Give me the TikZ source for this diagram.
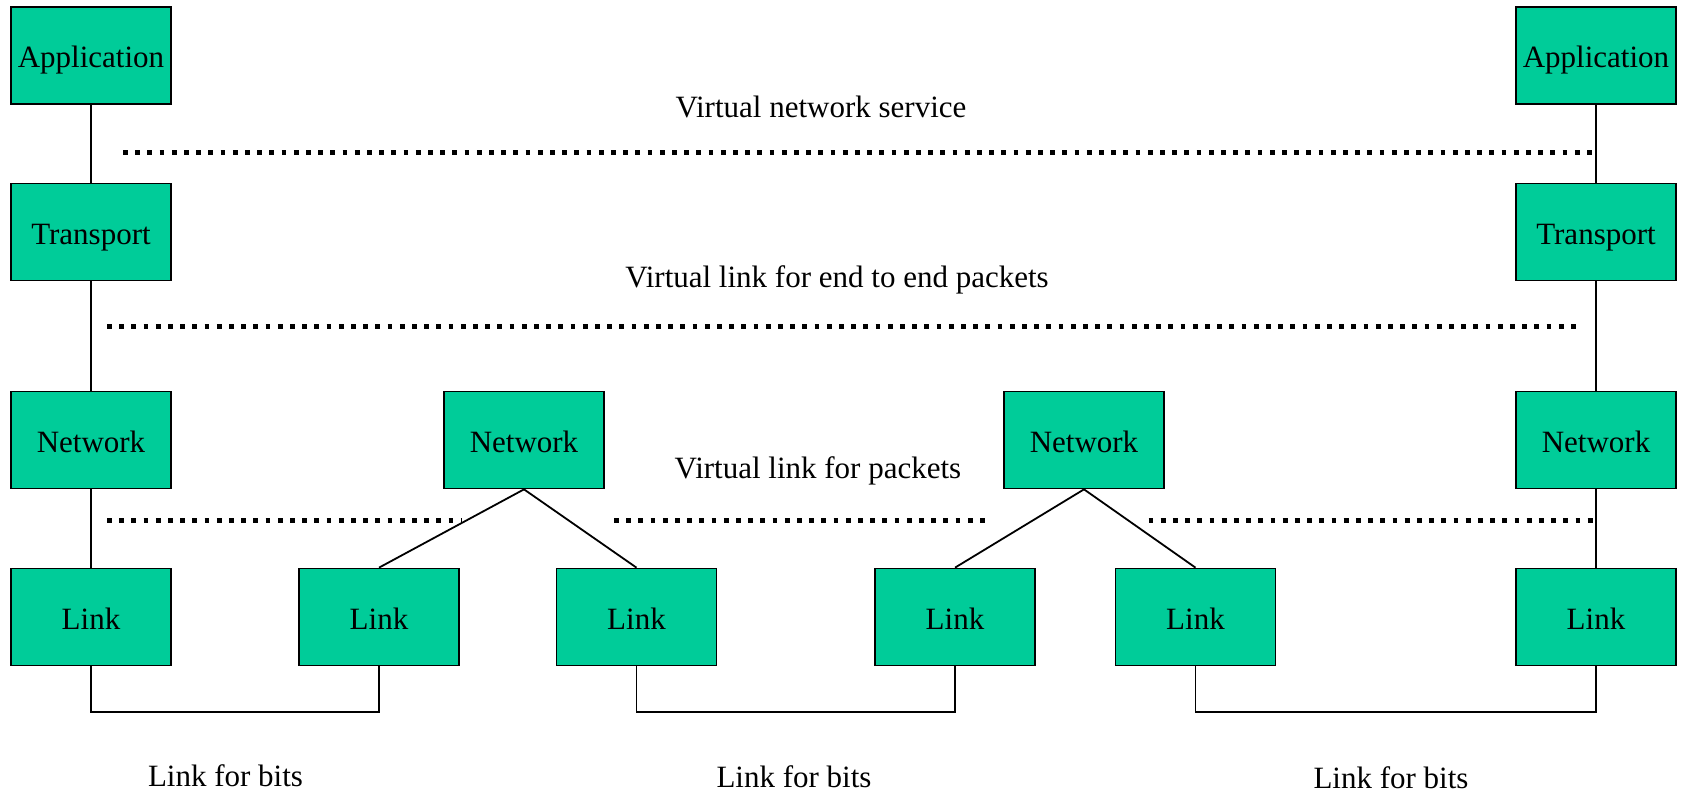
\documentclass[tikz,border=0pt]{standalone}
\usepackage{fontspec}
\setmainfont{Liberation Serif}
\definecolor{layergreen}{RGB}{0,204,153}
\tikzset{
  layer/.style={draw,line width=1.7pt,fill=layergreen,minimum width=160pt,minimum height=97pt,inner sep=0pt,text height=28pt,text depth=4pt},
  wire/.style={line width=1.8pt},
  vdots/.style={line width=4.8pt,dash pattern=on 4.8pt off 7.4pt},
}
\def\dotrow{\draw[vdots]}
\def\bigtext{\fontsize{31}{36}\selectfont}

\begin{document}
\begin{tikzpicture}[x=1pt,y=-1pt,font=\bigtext]
  \useasboundingbox (0,0) rectangle (1683,795);
  % end hosts
  \node[layer] (appL) at (91,55.5) {Application};
  \node[layer] (trL)  at (91,232)  {Transport};
  \node[layer] (netL) at (91,440)  {Network};
  \node[layer] (lnkL) at (91,617)  {Link};
  \node[layer] (appR) at (1596,55.5) {Application};
  \node[layer] (trR)  at (1596,232)  {Transport};
  \node[layer] (netR) at (1596,440)  {Network};
  \node[layer] (lnkR) at (1596,617)  {Link};
  % routers
  \node[layer] (netA)  at (524,440)  {Network};
  \node[layer] (lnkA1) at (379,617)  {Link};
  \node[layer] (lnkA2) at (636.5,617) {Link};
  \node[layer] (netB)  at (1084,440) {Network};
  \node[layer] (lnkB1) at (955,617)  {Link};
  \node[layer] (lnkB2) at (1195.5,617) {Link};
  % stacks
  \draw[wire] (appL) -- (trL) -- (netL) -- (lnkL);
  \draw[wire] (appR) -- (trR) -- (netR) -- (lnkR);
  \draw[wire] (lnkA1.north) -- (netA.south) -- (lnkA2.north);
  \draw[wire] (lnkB1.north) -- (netB.south) -- (lnkB2.north);
  % physical links
  \draw[wire] (lnkL.south) -- ++(0,45.5) -| (lnkA1.south);
  \draw[wire] (lnkA2.south) -- ++(0,45.5) -| (lnkB1.south);
  \draw[wire] (lnkB2.south) -- ++(0,45.5) -| (lnkR.south);
  % virtual links
  \dotrow (123,152.4) -- (1596,152.4);
  \dotrow (107,326.3) -- (1578,326.3);
  \dotrow (107,520.5) -- (461.5,520.5);
  \dotrow (614,520.5) -- (987.5,520.5);
  \dotrow (1148.5,520.5) -- (1596,520.5);
  \node (vns) at (821,107) {Virtual network service};
  \node (vle) at (837,280) {Virtual link for end to end packets};
  \node (vlp) at (818,471) {Virtual link for packets};
  \node (bitsA) at (225.5,776) {Link for bits};
  \node (bitsB) at (794,777) {Link for bits};
  \node (bitsC) at (1391,778) {Link for bits};
\end{tikzpicture}
\end{document}
